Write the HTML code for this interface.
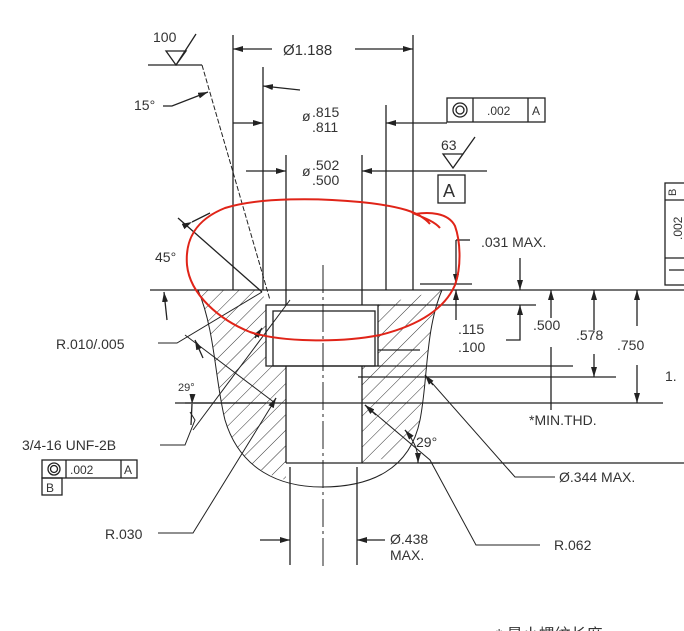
<!DOCTYPE html>
<html><head><meta charset="utf-8"><style>
html,body{margin:0;padding:0;background:#fff;}
svg{display:block;}
text{font-family:"Liberation Sans","Noto Sans CJK SC",sans-serif;fill:#333;}
</style></head><body>
<svg width="684" height="631" viewBox="0 0 684 631" xmlns="http://www.w3.org/2000/svg">
<defs>
<marker id="a" markerWidth="10" markerHeight="6" refX="10" refY="3" orient="auto" markerUnits="userSpaceOnUse"><path d="M0,0 L10,3 L0,6z" fill="#222"/></marker>
<pattern id="h" width="11" height="11" patternUnits="userSpaceOnUse" patternTransform="rotate(45)"><line x1="0" y1="0" x2="0" y2="11" stroke="#333" stroke-width="1"/></pattern>
<clipPath id="cl"><path d="M198,290 L262,290 L266,305 L266,366 L286,366 L286,480 C255,472 233,452 225,420 C215,380 215,330 198,290z"/></clipPath>
<clipPath id="cr"><path d="M378,305 L442,290 C425,330 428,380 420,420 C414,445 400,458 362,463 L362,366 L378,366z"/></clipPath>
</defs>
<g stroke="#222" stroke-width="1.3" fill="none">
<rect x="180" y="285" width="120" height="210" fill="url(#h)" stroke="none" clip-path="url(#cl)"/>
<rect x="360" y="285" width="90" height="190" fill="url(#h)" stroke="none" clip-path="url(#cr)"/>
<path d="M198,290 C215,330 215,380 225,420 C240,470 280,487 322,487 C370,487 410,470 420,420 C428,380 425,330 442,290" stroke-width="1"/>
<line x1="150" y1="290" x2="684" y2="290"/>
<line x1="420" y1="284" x2="472" y2="284"/>
<line x1="233" y1="35" x2="233" y2="290"/>
<line x1="413" y1="35" x2="413" y2="290"/>
<line x1="263" y1="67" x2="263" y2="290"/>
<line x1="386" y1="105" x2="386" y2="290"/>
<line x1="286" y1="155" x2="286" y2="305"/>
<line x1="362" y1="155" x2="362" y2="305"/>
<line x1="323" y1="265" x2="323" y2="570" stroke-dasharray="28,4,3,4" stroke-width="1"/>
<rect x="266" y="305" width="112" height="61"/>
<rect x="273" y="311" width="102" height="55"/>
<line x1="286" y1="366" x2="286" y2="463"/>
<line x1="362" y1="366" x2="362" y2="463"/>
<line x1="286" y1="463" x2="440" y2="463"/>
<line x1="290" y1="467" x2="290" y2="565"/>
<line x1="357" y1="467" x2="357" y2="565"/>
<line x1="378" y1="350" x2="420" y2="350"/>
<line x1="378" y1="305" x2="536" y2="305"/>
<line x1="378" y1="366" x2="573" y2="366"/>
<line x1="358" y1="377" x2="616" y2="377"/>
<line x1="175" y1="403" x2="663" y2="403"/>
<line x1="420" y1="463" x2="684" y2="463"/>
<line x1="272" y1="49" x2="233" y2="49" marker-end="url(#a)"/>
<line x1="355" y1="49" x2="413" y2="49" marker-end="url(#a)"/>
<line x1="300" y1="90" x2="263" y2="86" marker-end="url(#a)"/>
<line x1="233" y1="123" x2="263" y2="123" marker-end="url(#a)"/>
<line x1="447" y1="123" x2="386" y2="123" marker-end="url(#a)"/>
<line x1="246" y1="171" x2="286" y2="171" marker-end="url(#a)"/>
<line x1="487" y1="171" x2="362" y2="171" marker-end="url(#a)"/>
<line x1="148" y1="65" x2="202" y2="65"/>
<path d="M166,51 L176,65 L186,51 Z M176,65 L196,34"/>
<line x1="202" y1="65" x2="270" y2="300" stroke-dasharray="5,2" stroke-width="1"/>
<path d="M163,106 L172,106 L208,92" marker-end="url(#a)"/>
<path d="M443,154 L453,168 L463,154 Z M453,168 L475,137"/>
<rect x="438" y="175" width="27" height="28"/>
<rect x="447" y="98" width="98" height="24"/>
<line x1="473" y1="98" x2="473" y2="122"/><line x1="528" y1="98" x2="528" y2="122"/>
<circle cx="460" cy="110" r="7"/><circle cx="460" cy="110" r="4"/>
<line x1="178" y1="218" x2="262" y2="292"/>
<line x1="192" y1="222" x2="210" y2="213" marker-start="url(#a)"/>
<line x1="167" y1="320" x2="164" y2="292" marker-end="url(#a)"/>
<line x1="456" y1="240" x2="470" y2="240"/>
<line x1="456" y1="240" x2="456" y2="284" marker-end="url(#a)"/>
<line x1="456" y1="320" x2="456" y2="290" marker-end="url(#a)"/>
<line x1="520" y1="258" x2="520" y2="290" marker-end="url(#a)"/>
<path d="M506,340 L520,340 L520,305" marker-end="url(#a)"/>
<line x1="551" y1="318" x2="551" y2="290" marker-end="url(#a)"/>
<line x1="551" y1="347" x2="551" y2="410"/>
<line x1="594" y1="330" x2="594" y2="290" marker-end="url(#a)"/>
<line x1="594" y1="354" x2="594" y2="377" marker-end="url(#a)"/>
<line x1="637" y1="326" x2="637" y2="290" marker-end="url(#a)"/>
<line x1="637" y1="365" x2="637" y2="403" marker-end="url(#a)"/>
<rect x="665" y="183" width="25" height="102"/>
<line x1="665" y1="200" x2="690" y2="200"/><line x1="665" y1="258" x2="690" y2="258"/>
<line x1="669" y1="270" x2="690" y2="270"/>
<path d="M158,343 L177,343 L262,292" stroke-width="1"/>
<line x1="185" y1="335" x2="275" y2="403" stroke-width="1"/>
<line x1="203" y1="358" x2="195" y2="340" marker-end="url(#a)"/>
<line x1="185" y1="403" x2="266" y2="403"/>
<path d="M160,445 L185,445 L195,420 L190,412" stroke-width="1"/>
<line x1="192" y1="404" x2="191" y2="425" marker-start="url(#a)"/>
<path d="M158,533 L193,533 L272,405" stroke-width="1"/>
<line x1="272" y1="405" x2="276" y2="398" marker-end="url(#a)"/>
<line x1="255" y1="338" x2="262" y2="328" marker-end="url(#a)"/>
<path d="M193,430 L290,300" stroke-width="1"/>
<path d="M365,405 L430,460 L476,545 L540,545" stroke-width="1"/>
<line x1="376" y1="415" x2="365" y2="405" marker-end="url(#a)"/>
<path d="M425,375 L515,477 L555,477" stroke-width="1"/>
<line x1="433" y1="385" x2="425" y2="375" marker-end="url(#a)"/>
<path d="M405,430 Q418,445 418,460" stroke-width="1"/>
<line x1="410" y1="436" x2="405" y2="430" marker-end="url(#a)"/>
<line x1="418" y1="455" x2="418" y2="463" marker-end="url(#a)"/>
<line x1="385" y1="540" x2="357" y2="540" marker-end="url(#a)"/>
<line x1="260" y1="540" x2="290" y2="540" marker-end="url(#a)"/>
<rect x="42" y="460" width="95" height="18"/>
<line x1="66" y1="460" x2="66" y2="478"/><line x1="121" y1="460" x2="121" y2="478"/>
<rect x="42" y="478" width="20" height="17"/>
<circle cx="54" cy="469" r="6"/><circle cx="54" cy="469" r="3.5"/>
</g>
<g font-size="14">
<text x="153" y="42">100</text>
<text x="134" y="110">15°</text>
<text x="283" y="55" font-size="15">Ø1.188</text>
<text x="302" y="121">ø</text><text x="312" y="117">.815</text><text x="312" y="132">.811</text>
<text x="302" y="176">ø</text><text x="312" y="170">.502</text><text x="312" y="185">.500</text>
<text x="487" y="115" font-size="12">.002</text><text x="532" y="115" font-size="12">A</text>
<text x="441" y="150">63</text>
<text x="443" y="197" font-size="18">A</text>
<text x="155" y="262">45°</text>
<text x="481" y="247">.031 MAX.</text>
<text x="458" y="334">.115</text><text x="458" y="352">.100</text>
<text x="533" y="330">.500</text>
<text x="576" y="340">.578</text>
<text x="617" y="350">.750</text>
<text x="665" y="381">1.</text>
<text x="56" y="349">R.010/.005</text>
<text x="178" y="391" font-size="11">29°</text>
<text x="22" y="450">3/4-16 UNF-2B</text>
<text x="70" y="474" font-size="12">.002</text><text x="124" y="474" font-size="12">A</text>
<text x="46" y="492" font-size="12">B</text>
<text x="529" y="425">*MIN.THD.</text>
<text x="416" y="447">29°</text>
<text x="559" y="482">Ø.344 MAX.</text>
<text x="105" y="539">R.030</text>
<text x="390" y="544">Ø.438</text><text x="390" y="560">MAX.</text>
<text x="554" y="550">R.062</text>
<text x="676" y="196" font-size="11" transform="rotate(-90 676 196)">B</text>
<text x="682" y="240" font-size="12" transform="rotate(-90 682 240)">.002</text>
<text x="496" y="640" font-size="16">* 最小螺纹长度</text>
</g>
<path d="M430,224 C420,212 400,206 360,202 C320,198 260,197 225,208 C195,220 185,240 187,265 C190,295 220,320 250,332 C280,342 340,343 380,335 C420,325 445,308 455,285 C462,265 460,240 455,226 C448,212 428,212 415,214 C425,218 435,222 440,228" fill="none" stroke="#e02418" stroke-width="2"/>
</svg>
</body></html>
